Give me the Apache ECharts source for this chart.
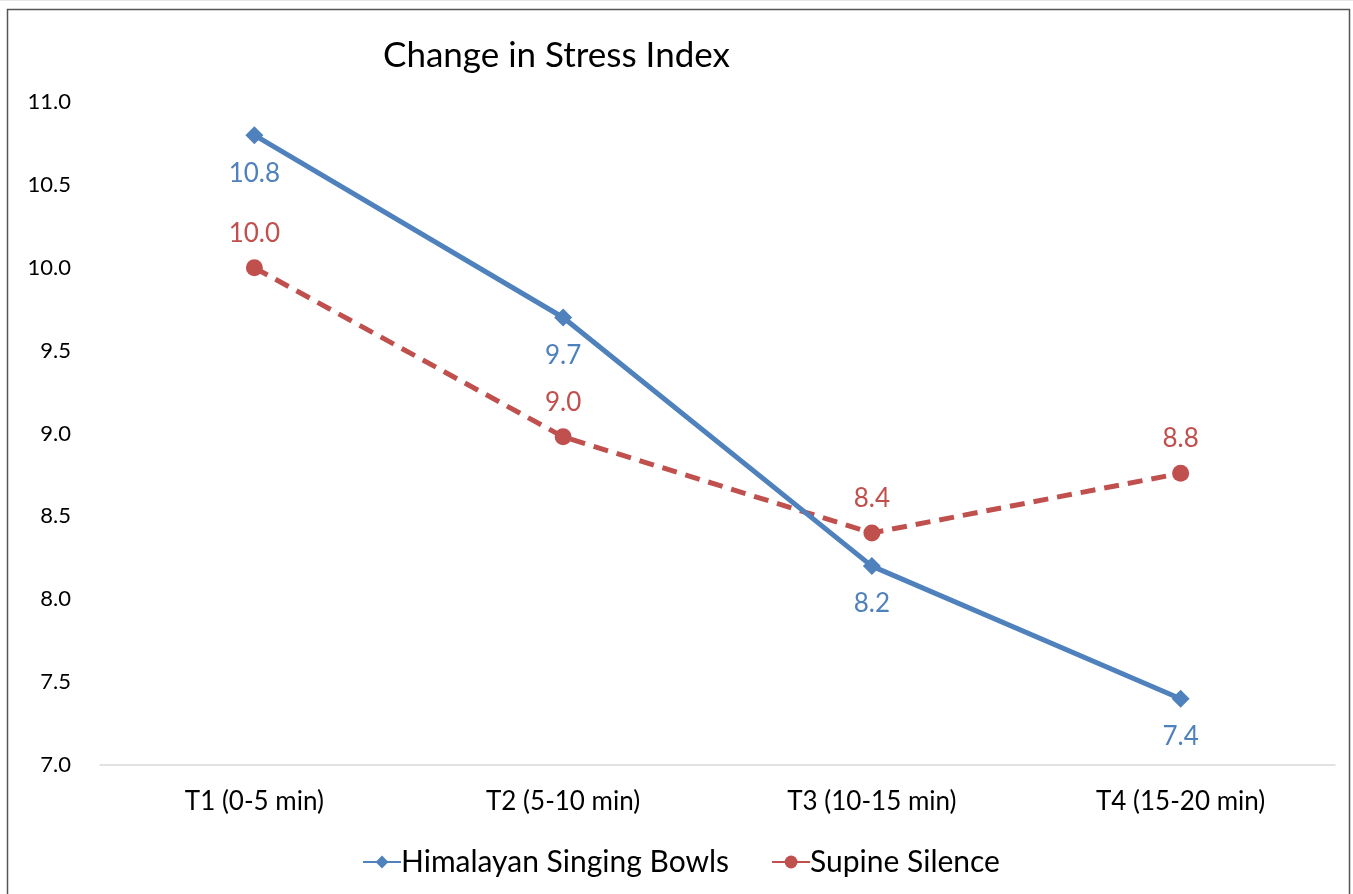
<!DOCTYPE html>
<html>
<head>
<meta charset="utf-8">
<title>Change in Stress Index</title>
<script src="https://cdn.jsdelivr.net/npm/echarts@6/dist/echarts.min.js"></script>
<style>
  html, body { margin: 0; padding: 0; background: #fff; }
  #chart { width: 1353px; height: 894px; }
</style>
</head>
<body>
<div id="chart"></div>
<script>
// Measurement periods
const categories = ['T1 (0-5 min)', 'T2 (5-10 min)', 'T3 (10-15 min)', 'T4 (15-20 min)'];
// Stress index per group
const singingBowls = [10.8, 9.7, 8.2, 7.4];
const supineSilence = [10.0, 8.98, 8.4, 8.76];
const seriesNames = ['Himalayan Singing Bowls', 'Supine Silence'];

const FONT = 'Lato, "Open Sans", sans-serif';
const BLUE = '#4F81BD';
const RED = '#C0504D';

const chart = echarts.init(document.getElementById('chart'));
chart.setOption({
  animation: false,
  backgroundColor: '#fff',
  title: {
    text: 'Change in Stress Index',
    left: 378,
    top: 33,
    textStyle: { fontFamily: FONT, fontSize: 35, fontWeight: 'normal', color: '#000' }
  },
  graphic: [
    { type: 'rect', shape: { x: 0, y: 0, width: 1353, height: 1 }, style: { fill: '#e6e6e6' } },
    { type: 'rect', shape: { x: 7.5, y: 9.5, width: 1342, height: 900 },
      style: { fill: 'none', stroke: '#555', lineWidth: 1.5 } }
  ],
  legend: {
    top: 842,
    left: 357,
    itemWidth: 38,
    itemHeight: 16,
    itemGap: 42,
    data: seriesNames,
    textStyle: { fontFamily: FONT, fontSize: 30, color: '#000', padding: [0, 0, 0, -5] }
  },
  grid: { left: 100, right: 18, top: 102, bottom: 129 },
  xAxis: {
    type: 'category',
    data: categories,
    axisTick: { show: false },
    axisLine: { lineStyle: { color: '#d9d9d9', width: 1.5 } },
    axisLabel: { fontFamily: FONT, fontSize: 26, color: '#000', margin: 24 }
  },
  yAxis: {
    type: 'value',
    min: 7.0,
    max: 11.0,
    interval: 0.5,
    splitLine: { show: false },
    axisLine: { show: false },
    axisTick: { show: false },
    axisLabel: {
      fontFamily: FONT, fontSize: 22, color: '#000', margin: 29,
      formatter: v => v.toFixed(1)
    }
  },
  series: [
    {
      name: seriesNames[0],
      type: 'line',
      data: singingBowls,
      symbol: 'diamond',
      symbolSize: 18,
      itemStyle: { color: BLUE },
      lineStyle: { color: BLUE, width: 5 },
      label: {
        show: true, position: 'bottom', distance: 16,
        fontFamily: FONT, fontSize: 26, color: BLUE,
        formatter: p => p.value.toFixed(1)
      },
      z: 3
    },
    {
      name: seriesNames[1],
      type: 'line',
      data: supineSilence,
      symbol: 'circle',
      symbolSize: 17,
      itemStyle: { color: RED },
      lineStyle: { color: RED, width: 5, type: [15, 9] },
      label: {
        show: true, position: 'top', distance: 13,
        fontFamily: FONT, fontSize: 26, color: RED,
        formatter: p => p.value.toFixed(1)
      },
      z: 2
    }
  ]
});
</script>
</body>
</html>
